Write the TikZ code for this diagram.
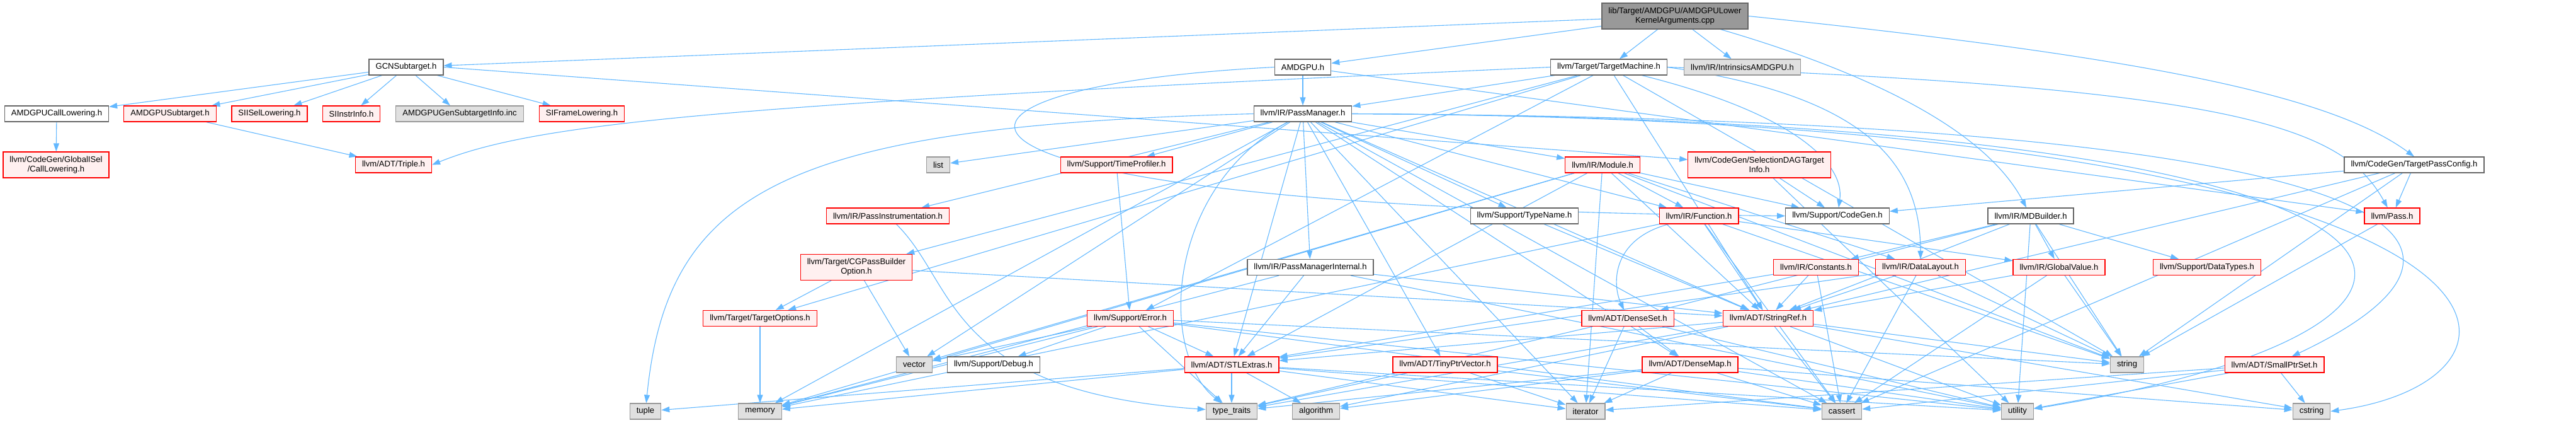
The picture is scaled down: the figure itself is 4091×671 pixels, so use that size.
\documentclass[tikz,border=0pt]{standalone}
\usepackage{fontspec}
\setmainfont{Liberation Sans}
\usetikzlibrary{arrows.meta}
\pgfdeclarelayer{background}
\pgfsetlayers{background,main}
\definecolor{edgec}{HTML}{63B8FF}
\definecolor{redfill}{HTML}{FFF0F0}
\definecolor{redline}{HTML}{FF0000}
\definecolor{grayfill}{HTML}{E0E0E0}
\definecolor{grayline}{HTML}{999999}
\definecolor{darkline}{HTML}{666666}
\definecolor{mainfill}{HTML}{999999}
\tikzset{
  nbase/.style={rectangle, line width=1.2pt, inner xsep=10.5pt, inner ysep=0pt,
    minimum height=25pt, font=\fontsize{13.1}{15}\selectfont, align=center},
  wnode/.style={nbase, draw=darkline, fill=white},
  rnode/.style={nbase, draw=redline, fill=redfill},
  gnode/.style={nbase, draw=grayline, fill=grayfill},
  mnode/.style={nbase, draw=darkline, fill=mainfill},
  tall/.style={minimum height=41pt},
  edge/.style={draw=edgec, line width=1.1pt, -{Triangle[length=13pt,width=9pt]}},
}
\begin{document}
\begin{tikzpicture}[x=1pt,y=-1pt]
\useasboundingbox (0,0) rectangle (4091,671);
% row 0
\node[mnode,tall] (main) at (2660,25.5) {lib/Target/AMDGPU/AMDGPULower\\KernelArguments.cpp};
% row 1
\node[wnode] (gcn) at (645,106.5) {GCNSubtarget.h};
\node[wnode] (amdgpu) at (2069,106.5) {AMDGPU.h};
\node[wnode] (tm) at (2555,106.5) {llvm/Target/TargetMachine.h};
\node[gnode] (intr) at (2767,106.5) {llvm/IR/IntrinsicsAMDGPU.h};
% row 2
\node[wnode] (acl) at (90,180.5) {AMDGPUCallLowering.h};
\node[rnode] (asub) at (270,180.5) {AMDGPUSubtarget.h};
\node[rnode] (sisel) at (428,180.5) {SIISelLowering.h};
\node[rnode] (siinstr) at (558,180.5) {SIInstrInfo.h};
\node[gnode] (geninc) at (730,180.5) {AMDGPUGenSubtargetInfo.inc};
\node[rnode] (sifl) at (924,180.5) {SIFrameLowering.h};
\node[wnode] (pm) at (2069,180.5) {llvm/IR/PassManager.h};
% row 3
\node[rnode,tall] (cl) at (89,261.5) {llvm/CodeGen/GlobalISel\\/CallLowering.h};
\node[rnode] (triple) at (625,261.5) {llvm/ADT/Triple.h};
\node[gnode] (list) at (1490,261.5) {list};
\node[rnode] (timeprof) at (1773,261.5) {llvm/Support/TimeProfiler.h};
\node[rnode] (module) at (2545,261.5) {llvm/IR/Module.h};
\node[rnode,tall] (sdag) at (2794,261.5) {llvm/CodeGen/SelectionDAGTarget\\Info.h};
\node[wnode] (tpc) at (3834,261.5) {llvm/CodeGen/TargetPassConfig.h};
% row 4
\node[rnode] (pinstr) at (1410,342.5) {llvm/IR/PassInstrumentation.h};
\node[wnode] (typename) at (2421,342.5) {llvm/Support/TypeName.h};
\node[rnode] (function) at (2698,342.5) {llvm/IR/Function.h};
\node[wnode] (codegen) at (2918,342.5) {llvm/Support/CodeGen.h};
\node[wnode] (mdb) at (3225,342.5) {llvm/IR/MDBuilder.h};
\node[rnode] (pass) at (3799,342.5) {llvm/Pass.h};
% row 5
\node[rnode,tall] (cgpbo) at (1360,424) {llvm/Target/CGPassBuilder\\Option.h};
\node[wnode] (pmi) at (2081,424) {llvm/IR/PassManagerInternal.h};
\node[rnode] (constants) at (2884,424) {llvm/IR/Constants.h};
\node[rnode] (datalayout) at (3050,424) {llvm/IR/DataLayout.h};
\node[rnode] (globalvalue) at (3270,424) {llvm/IR/GlobalValue.h};
\node[rnode] (datatypes) at (3505,424) {llvm/Support/DataTypes.h};
% row 6
\node[rnode] (topts) at (1207,505) {llvm/Target/TargetOptions.h};
\node[rnode] (error) at (1795,505) {llvm/Support/Error.h};
\node[rnode] (denseset) at (2585,505) {llvm/ADT/DenseSet.h};
\node[rnode] (stringref) at (2808,505) {llvm/ADT/StringRef.h};
% row 7
\node[gnode] (vector) at (1452,578.5) {vector};
\node[wnode] (debug) at (1578,578.5) {llvm/Support/Debug.h};
\node[rnode] (stlextras) at (1956,578.5) {llvm/ADT/STLExtras.h};
\node[rnode] (tinyptr) at (2295,578.5) {llvm/ADT/TinyPtrVector.h};
\node[rnode] (densemap) at (2684,578.5) {llvm/ADT/DenseMap.h};
\node[gnode] (string) at (3378,578.5) {string};
\node[rnode] (smallptrset) at (3612,578.5) {llvm/ADT/SmallPtrSet.h};
% row 8
\node[gnode] (tuple) at (1025,652.5) {tuple};
\node[gnode] (memory) at (1207,652.5) {memory};
\node[gnode] (typetraits) at (1956,652.5) {type\_traits};
\node[gnode] (algorithm) at (2090,652.5) {algorithm};
\node[gnode] (iterator) at (2518,652.5) {iterator};
\node[gnode] (cassert) at (2925,652.5) {cassert};
\node[gnode] (utility) at (3204,652.5) {utility};
\node[gnode] (cstring) at (3671,652.5) {cstring};

\begin{pgfonlayer}{background}
% main
\draw[edge] (main) -- (gcn);
\draw[edge] (main) -- (amdgpu);
\draw[edge] (main) -- (tm);
\draw[edge] (main) -- (intr);
\draw[edge] (main.east) .. controls (3400,90) and (3700,150) .. (tpc.north);
\draw[edge] (main) .. controls (2950,110) and (3150,200) .. (mdb);
% GCNSubtarget
\draw[edge] (gcn) -- (acl);
\draw[edge] (gcn) -- (asub);
\draw[edge] (gcn) -- (sisel);
\draw[edge] (gcn) -- (siinstr);
\draw[edge] (gcn) -- (geninc);
\draw[edge] (gcn) -- (sifl);
\draw[edge] (gcn.east) -- (sdag);
\draw[edge] (acl) -- (cl);
\draw[edge] (asub) -- (triple);
% AMDGPU.h
\draw[edge] (amdgpu) -- (pm);
\draw[edge] (amdgpu.west) .. controls (1380,140) and (1380,330) .. (codegen.west);
\draw[edge] (amdgpu) -- (pass);
% TargetMachine
\draw[edge] (tm) -- (pm);
\draw[edge] (tm.west) .. controls (1150,165) and (850,195) .. (triple.east);
\draw[edge] (tm) -- (topts);
\draw[edge] (tm) -- (cgpbo);
\draw[edge] (tm) -- (error);
\draw[edge] (tm) .. controls (2850,180) and (2930,260) .. (codegen);
\draw[edge] (tm.east) .. controls (2950,150) and (3050,250) .. (datalayout);
\draw[edge] (tm) -- (stringref);
\draw[edge] (tm) -- (string);
\draw[edge] (tm.east) .. controls (3550,140) and (3720,200) .. (pass);
% PassManager
\draw[edge] (pm) -- (list);
\draw[edge] (pm) -- (timeprof);
\draw[edge] (pm) -- (module);
\draw[edge] (pm) -- (pinstr);
\draw[edge] (pm) -- (pmi);
\draw[edge] (pm) -- (typename);
\draw[edge] (pm) -- (function);
\draw[edge] (pm) -- (stlextras);
\draw[edge] (pm) -- (densemap);
\draw[edge] (pm.east) .. controls (3950,190) and (3990,400) .. (smallptrset);
\draw[edge] (pm) -- (stringref);
\draw[edge] (pm) -- (tinyptr);
\draw[edge] (pm) -- (cassert);
\draw[edge] (pm.east) .. controls (4085,190) and (4085,600) .. (cstring.east);
\draw[edge] (pm) -- (iterator);
\draw[edge] (pm) -- (memory);
\draw[edge] (pm.west) .. controls (1250,200) and (1060,300) .. (tuple);
\draw[edge] (pm) .. controls (1850,300) and (1840,560) .. (typetraits);
\draw[edge] (pm.east) .. controls (4030,190) and (4030,520) .. (utility);
\draw[edge] (pm) -- (vector);
% Module
\draw[edge] (module) -- (function);
\draw[edge] (module) -- (codegen);
\draw[edge] (module) -- (datalayout);
\draw[edge] (module) -- (stringref);
\draw[edge] (module) -- (stlextras);
\draw[edge] (module) -- (iterator);
\draw[edge] (module) -- (memory);
\draw[edge] (module) -- (string);
\draw[edge] (module) -- (vector);
% Function
\draw[edge] (function) .. controls (2560,380) and (2560,450) .. (denseset);
\draw[edge] (function) -- (stringref);
\draw[edge] (function) -- (globalvalue);
\draw[edge] (function) -- (cassert);
\draw[edge] (function) -- (memory);
\draw[edge] (function) -- (string);
% others
\draw[edge] (sdag) -- (codegen);
\draw[edge] (sdag) -- (utility);
\draw[edge] (tpc) -- (pass);
\draw[edge] (tpc) -- (codegen);
\draw[edge] (tpc) -- (stringref);
\draw[edge] (tpc) -- (string);
\draw[edge] (tpc) -- (cassert);
\draw[edge] (timeprof) -- (error);
\draw[edge] (pinstr) .. controls (1520,450) and (1500,620) .. (typetraits);
\draw[edge] (typename) -- (stringref);
\draw[edge] (mdb) -- (globalvalue);
\draw[edge] (mdb) -- (datatypes);
\draw[edge] (mdb) -- (constants);
\draw[edge] (mdb) -- (denseset);
\draw[edge] (mdb) -- (stringref);
\draw[edge] (mdb) -- (utility);
\draw[edge] (mdb) -- (string);
\draw[edge] (pass) -- (string);
\draw[edge] (cgpbo) -- (topts);
\draw[edge] (cgpbo) -- (vector);
\draw[edge] (cgpbo) -- (stringref);
\draw[edge] (pmi) -- (stlextras);
\draw[edge] (pmi) -- (stringref);
\draw[edge] (pmi) -- (memory);
\draw[edge] (pmi) -- (utility);
\draw[edge] (constants) -- (stringref);
\draw[edge] (constants) -- (cassert);
\draw[edge] (constants) -- (stlextras);
\draw[edge] (datalayout) -- (stringref);
\draw[edge] (datalayout) -- (cassert);
\draw[edge] (datalayout) -- (stlextras);
\draw[edge] (datalayout) -- (string);
\draw[edge] (globalvalue) -- (stringref);
\draw[edge] (globalvalue) -- (cassert);
\draw[edge] (globalvalue) -- (string);
\draw[edge] (topts) -- (memory);
\draw[edge] (error) -- (vector);
\draw[edge] (error) -- (debug);
\draw[edge] (error) -- (stlextras);
\draw[edge] (error) -- (typetraits);
\draw[edge] (error) -- (cassert);
\draw[edge] (error) -- (string);
\draw[edge] (error) -- (utility);
\draw[edge] (error) -- (memory);
\draw[edge] (denseset) -- (densemap);
\draw[edge] (denseset) -- (iterator);
\draw[edge] (denseset) -- (typetraits);
\draw[edge] (denseset) -- (utility);
\draw[edge] (stringref) -- (stlextras);
\draw[edge] (stringref) -- (algorithm);
\draw[edge] (stringref) -- (cassert);
\draw[edge] (stringref) -- (cstring);
\draw[edge] (stringref) -- (string);
\draw[edge] (stringref) -- (typetraits);
\draw[edge] (stringref) -- (utility);
\draw[edge] (stlextras) -- (tuple);
\draw[edge] (stlextras) -- (memory);
\draw[edge] (stlextras) -- (typetraits);
\draw[edge] (stlextras) -- (algorithm);
\draw[edge] (stlextras) -- (iterator);
\draw[edge] (stlextras) -- (cassert);
\draw[edge] (stlextras) -- (utility);
\draw[edge] (tinyptr) -- (iterator);
\draw[edge] (tinyptr) -- (cassert);
\draw[edge] (tinyptr) -- (typetraits);
\draw[edge] (densemap) -- (algorithm);
\draw[edge] (densemap) -- (iterator);
\draw[edge] (densemap) -- (cassert);
\draw[edge] (densemap) -- (cstring);
\draw[edge] (densemap) -- (typetraits);
\draw[edge] (densemap) -- (utility);
\draw[edge] (smallptrset) -- (cassert);
\draw[edge] (smallptrset) -- (cstring);
\draw[edge] (smallptrset) -- (iterator);
\draw[edge] (smallptrset) -- (utility);
\end{pgfonlayer}
\end{tikzpicture}
\end{document}
